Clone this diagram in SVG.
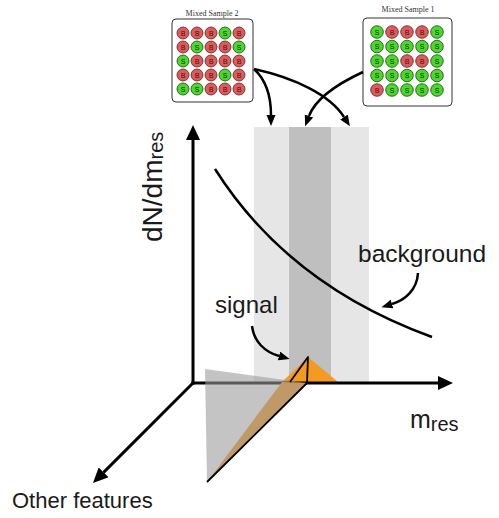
<svg xmlns="http://www.w3.org/2000/svg" width="499" height="518" viewBox="0 0 499 518">
<style>
.lbl{font-family:"Liberation Sans",Arial,sans-serif;fill:#1a1a1a}
.ttl{font-family:"Liberation Serif","Times New Roman",serif;font-size:8px;fill:#333;text-anchor:middle}
.box{fill:#fff;stroke:#333;stroke-width:1}
.r{fill:#ea5555;stroke:#333;stroke-width:0.8}
.g{fill:#44dd22;stroke:#333;stroke-width:0.8}
.ct{font-family:"Liberation Sans",Arial,sans-serif;font-size:7px;fill:#222;text-anchor:middle}
.arr{fill:none;stroke:#000;stroke-width:2.5;marker-end:url(#ah)}
.axis{fill:none;stroke:#000;stroke-width:3;marker-end:url(#axh)}
</style>
<defs>
<marker id="ah" markerUnits="userSpaceOnUse" markerWidth="12" markerHeight="10" refX="0" refY="4.5" orient="auto"><path d="M0,0 L11,4.5 L0,9 z" fill="#000"/></marker>
<marker id="axh" markerUnits="userSpaceOnUse" markerWidth="16" markerHeight="14" refX="0" refY="7" orient="auto"><path d="M0,0 L15,7 L0,14 z" fill="#000"/></marker>
</defs>
<rect width="499" height="518" fill="#fff"/>
<g id="bands">
<rect x="254" y="127" width="115" height="256" fill="#e6e6e6"/>
<rect x="289" y="127" width="42" height="256" fill="#bfbfbf"/>
</g>
<g id="curve">
<path d="M215,169 C260,240 330,300 432,337" fill="none" stroke="#000" stroke-width="2.5"/>
</g>
<g id="signal-peak">
<polygon points="282,382 308,357 338,382" fill="#f39a1f"/>
</g>
<g id="axes">
<line class="axis" x1="193" y1="384.5" x2="193" y2="140"/>
<line class="axis" x1="191.5" y1="383" x2="438" y2="383"/>
<line class="axis" x1="193" y1="383" x2="103.6" y2="472.4"/>
</g>
<g id="projection">
<polygon points="282,382 307,383 207,482" fill="#f39a1f"/>
<polygon points="205,369 307,383 207,482" fill="#9a9a9a" fill-opacity="0.58"/>
<path d="M290,382 L308,357 L307,383 L207,482" fill="none" stroke="#000" stroke-width="1.8" stroke-linejoin="round"/>
</g>
<g id="sample2">
<text class="ttl" x="212" y="16">Mixed Sample 2</text>
<rect class="box" x="172" y="19" width="81" height="83" rx="4"/>
<circle class="r" cx="183" cy="33" r="6"/><text class="ct" x="183" y="35.5">B</text>
<circle class="r" cx="197" cy="33" r="6"/><text class="ct" x="197" y="35.5">B</text>
<circle class="r" cx="211" cy="33" r="6"/><text class="ct" x="211" y="35.5">B</text>
<circle class="g" cx="225" cy="33" r="6"/><text class="ct" x="225" y="35.5">S</text>
<circle class="r" cx="239" cy="33" r="6"/><text class="ct" x="239" y="35.5">B</text>
<circle class="r" cx="183" cy="47" r="6"/><text class="ct" x="183" y="49.5">B</text>
<circle class="g" cx="197" cy="47" r="6"/><text class="ct" x="197" y="49.5">S</text>
<circle class="r" cx="211" cy="47" r="6"/><text class="ct" x="211" y="49.5">B</text>
<circle class="r" cx="225" cy="47" r="6"/><text class="ct" x="225" y="49.5">B</text>
<circle class="g" cx="239" cy="47" r="6"/><text class="ct" x="239" y="49.5">S</text>
<circle class="g" cx="183" cy="61" r="6"/><text class="ct" x="183" y="63.5">S</text>
<circle class="r" cx="197" cy="61" r="6"/><text class="ct" x="197" y="63.5">B</text>
<circle class="r" cx="211" cy="61" r="6"/><text class="ct" x="211" y="63.5">B</text>
<circle class="r" cx="225" cy="61" r="6"/><text class="ct" x="225" y="63.5">B</text>
<circle class="r" cx="239" cy="61" r="6"/><text class="ct" x="239" y="63.5">B</text>
<circle class="r" cx="183" cy="75" r="6"/><text class="ct" x="183" y="77.5">B</text>
<circle class="r" cx="197" cy="75" r="6"/><text class="ct" x="197" y="77.5">B</text>
<circle class="r" cx="211" cy="75" r="6"/><text class="ct" x="211" y="77.5">B</text>
<circle class="g" cx="225" cy="75" r="6"/><text class="ct" x="225" y="77.5">S</text>
<circle class="r" cx="239" cy="75" r="6"/><text class="ct" x="239" y="77.5">B</text>
<circle class="g" cx="183" cy="89" r="6"/><text class="ct" x="183" y="91.5">S</text>
<circle class="g" cx="197" cy="89" r="6"/><text class="ct" x="197" y="91.5">S</text>
<circle class="r" cx="211" cy="89" r="6"/><text class="ct" x="211" y="91.5">B</text>
<circle class="r" cx="225" cy="89" r="6"/><text class="ct" x="225" y="91.5">B</text>
<circle class="r" cx="239" cy="89" r="6"/><text class="ct" x="239" y="91.5">B</text>
</g>
<g id="sample1">
<text class="ttl" x="408" y="12">Mixed Sample 1</text>
<rect class="box" x="363" y="18" width="89" height="88" rx="4"/>
<circle class="g" cx="377" cy="32" r="6.3"/><text class="ct" x="377" y="34.5">S</text>
<circle class="r" cx="392" cy="32" r="6.3"/><text class="ct" x="392" y="34.5">B</text>
<circle class="r" cx="407" cy="32" r="6.3"/><text class="ct" x="407" y="34.5">B</text>
<circle class="r" cx="422" cy="32" r="6.3"/><text class="ct" x="422" y="34.5">B</text>
<circle class="g" cx="437" cy="32" r="6.3"/><text class="ct" x="437" y="34.5">S</text>
<circle class="g" cx="377" cy="46.5" r="6.3"/><text class="ct" x="377" y="49">S</text>
<circle class="g" cx="392" cy="46.5" r="6.3"/><text class="ct" x="392" y="49">S</text>
<circle class="g" cx="407" cy="46.5" r="6.3"/><text class="ct" x="407" y="49">S</text>
<circle class="g" cx="422" cy="46.5" r="6.3"/><text class="ct" x="422" y="49">S</text>
<circle class="g" cx="437" cy="46.5" r="6.3"/><text class="ct" x="437" y="49">S</text>
<circle class="g" cx="377" cy="61" r="6.3"/><text class="ct" x="377" y="63.5">S</text>
<circle class="g" cx="392" cy="61" r="6.3"/><text class="ct" x="392" y="63.5">S</text>
<circle class="r" cx="407" cy="61" r="6.3"/><text class="ct" x="407" y="63.5">B</text>
<circle class="r" cx="422" cy="61" r="6.3"/><text class="ct" x="422" y="63.5">B</text>
<circle class="g" cx="437" cy="61" r="6.3"/><text class="ct" x="437" y="63.5">S</text>
<circle class="g" cx="377" cy="75.5" r="6.3"/><text class="ct" x="377" y="78">S</text>
<circle class="g" cx="392" cy="75.5" r="6.3"/><text class="ct" x="392" y="78">S</text>
<circle class="g" cx="407" cy="75.5" r="6.3"/><text class="ct" x="407" y="78">S</text>
<circle class="g" cx="422" cy="75.5" r="6.3"/><text class="ct" x="422" y="78">S</text>
<circle class="g" cx="437" cy="75.5" r="6.3"/><text class="ct" x="437" y="78">S</text>
<circle class="r" cx="377" cy="90" r="6.3"/><text class="ct" x="377" y="92.5">B</text>
<circle class="g" cx="392" cy="90" r="6.3"/><text class="ct" x="392" y="92.5">S</text>
<circle class="g" cx="407" cy="90" r="6.3"/><text class="ct" x="407" y="92.5">S</text>
<circle class="g" cx="422" cy="90" r="6.3"/><text class="ct" x="422" y="92.5">S</text>
<circle class="g" cx="437" cy="90" r="6.3"/><text class="ct" x="437" y="92.5">S</text>
</g>
<g id="connectors">
<path class="arr" d="M254,69 C266,80 271,95 271,115"/>
<path class="arr" d="M254,69 C295,78 330,95 344,117"/>
<path class="arr" d="M363,72 C335,85 315,100 309,116"/>
<path class="arr" d="M252,326 C254,342 265,352 279,356"/>
<path class="arr" d="M418,273 C417,290 405,300 392,304"/>
</g>
<g id="labels">
<text class="lbl" font-size="28" transform="translate(162,242) rotate(-90)">dN/dm<tspan font-size="20" dy="1">res</tspan></text>
<text class="lbl" x="410" y="428" font-size="25">m<tspan font-size="20" dy="3">res</tspan></text>
<text class="lbl" x="215" y="313" font-size="24">signal</text>
<text class="lbl" x="358" y="262" font-size="24.5">background</text>
<text class="lbl" x="12" y="508" font-size="22">Other features</text>
</g>
</svg>
